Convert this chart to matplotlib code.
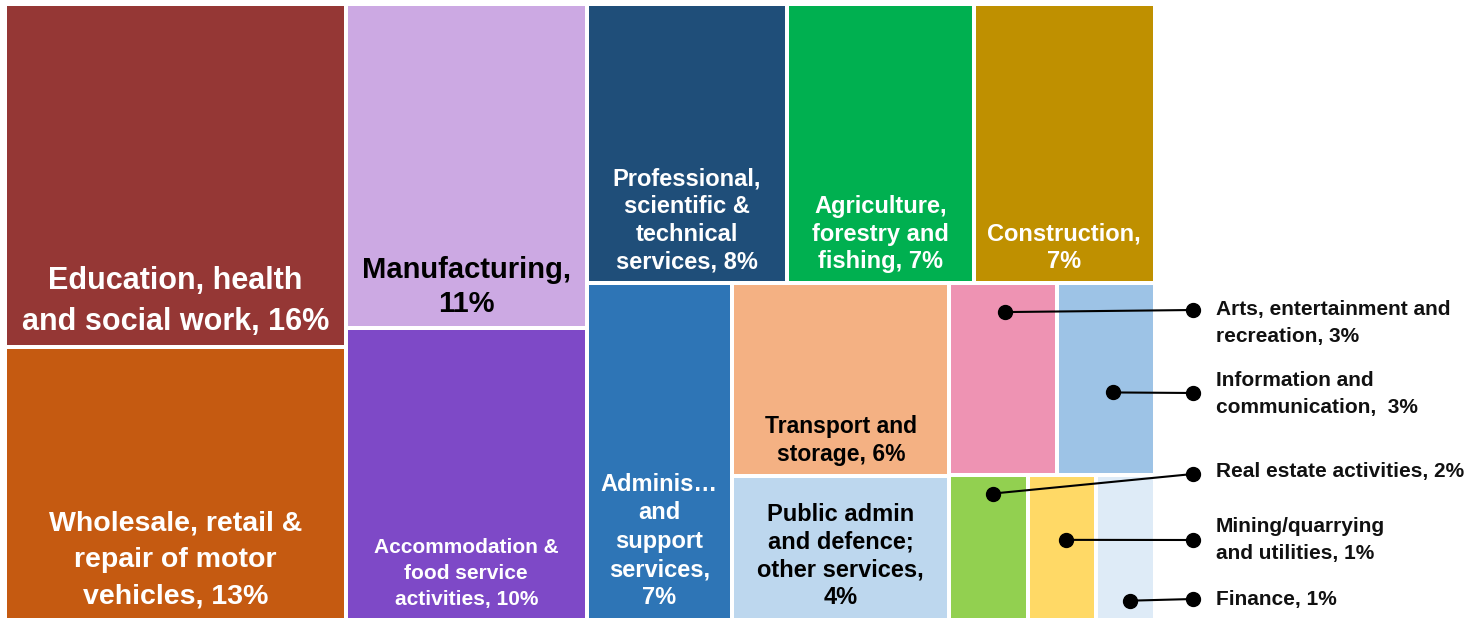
import matplotlib
matplotlib.use('Agg')
import matplotlib.pyplot as plt
from matplotlib.patches import Rectangle

plt.rcParams['font.family'] = ['Liberation Sans', 'DejaVu Sans']

# share of workers by sector (%)
sectors = ['Education, health\nand social work, 16%',
           'Wholesale, retail &\nrepair of motor\nvehicles, 13%',
           'Manufacturing,\n11%',
           'Accommodation &\nfood service\nactivities, 10%',
           'Professional,\nscientific &\ntechnical\nservices, 8%',
           'Agriculture,\nforestry and\nfishing, 7%',
           'Construction,\n7%',
           'Adminis…\nand\nsupport\nservices,\n7%',
           'Transport and\nstorage, 6%',
           'Public admin\nand defence;\nother services,\n4%',
           'Arts, entertainment and\nrecreation, 3%',
           'Information and\ncommunication,  3%',
           'Real estate activities, 2%',
           'Mining/quarrying\nand utilities, 1%',
           'Finance, 1%']
shares = [16.5, 13.1, 11.0, 9.9, 7.9, 7.35, 7.15, 6.9, 5.9, 4.4, 2.9, 2.65, 1.6, 1.4, 1.2]
colors = ['#953735', '#C55A11', '#CCA9E3', '#7E49C7', '#1F4E79', '#00B050', '#BF9000',
          '#2E75B6', '#F4B183', '#BDD7EE', '#EE93B3', '#9DC3E6', '#92D050', '#FFD966', '#DEEBF7']

# how the cells are nested: 'h' = side by side, 'v' = stacked
tree = ('h', [('v', [0, 1]),
              ('v', [2, 3]),
              ('v', [('h', [4, 5, 6]),
                     ('h', [7, ('v', [8, 9]),
                            ('v', [('h', [10, 11]), ('h', [12, 13, 14])])])])])

# label styles for cells with text inside: fontsize, linespacing, colour
inside = {0: (22, 1.49, 'white'), 1: (20.5, 1.52, 'white'), 2: (21, 1.27, 'black'),
          3: (15, 1.47, 'white'), 4: (17, 1.25, 'white'), 5: (17, 1.25, 'white'),
          6: (17, 1.25, 'white'), 7: (17, 1.3, 'white'), 8: (16.5, 1.29, 'black'),
          9: (17, 1.27, 'black')}
# callouts: anchor inside the cell (fraction), dot y and text y on the right
callout = {10: (0.52, 0.15, 310, 323), 11: (0.57, 0.57, 393, 394),
           12: (0.56, 0.13, 474, 471), 13: (0.56, 0.45, 540, 540),
           14: (0.58, 0.87, 599, 600)}


def total(node):
    if isinstance(node, int):
        return shares[node]
    return sum(total(n) for n in node[1])


def layout(node, x, y, w, h, out):
    if isinstance(node, int):
        out[node] = (x, y, w, h)
        return
    d, kids = node
    s = total(node)
    for k in kids:
        f = total(k) / s
        if d == 'h':
            layout(k, x, y, w * f, h, out)
            x += w * f
        else:
            layout(k, x, y, w, h * f, out)
            y += h * f


cells = {}
layout(tree, 5, 4, 1150, 615.5, cells)

fig = plt.figure(figsize=(14.7, 6.19), dpi=100)
ax = fig.add_axes([0, 0, 1, 1])
ax.set_xlim(0, 1470)
ax.set_ylim(619, 0)
ax.axis('off')

gap = 2
for i, (x, y, w, h) in cells.items():
    ax.add_patch(Rectangle((x + gap, y + gap), w - 2 * gap, h - 2 * gap,
                           facecolor=colors[i], edgecolor='none'))
    if i in inside:
        fs, ls, tc = inside[i]
        ax.text(x + w / 2, y + h - gap - 8, sectors[i], ha='center', va='bottom',
                fontsize=fs, fontweight='bold', color=tc, linespacing=ls,
                multialignment='center')

for i, (fx, fy, dot_y, txt_y) in callout.items():
    x, y, w, h = cells[i]
    px, py = x + w * fx, y + h * fy
    ax.plot([px, 1193], [py, dot_y], color='black', lw=1.5,
            marker='o', markersize=10, solid_capstyle='round')
    ax.text(1216, txt_y, sectors[i], ha='left', va='center', fontsize=15,
            fontweight='bold', color='#111111', linespacing=1.58)

fig.savefig('out.png', dpi=100)
